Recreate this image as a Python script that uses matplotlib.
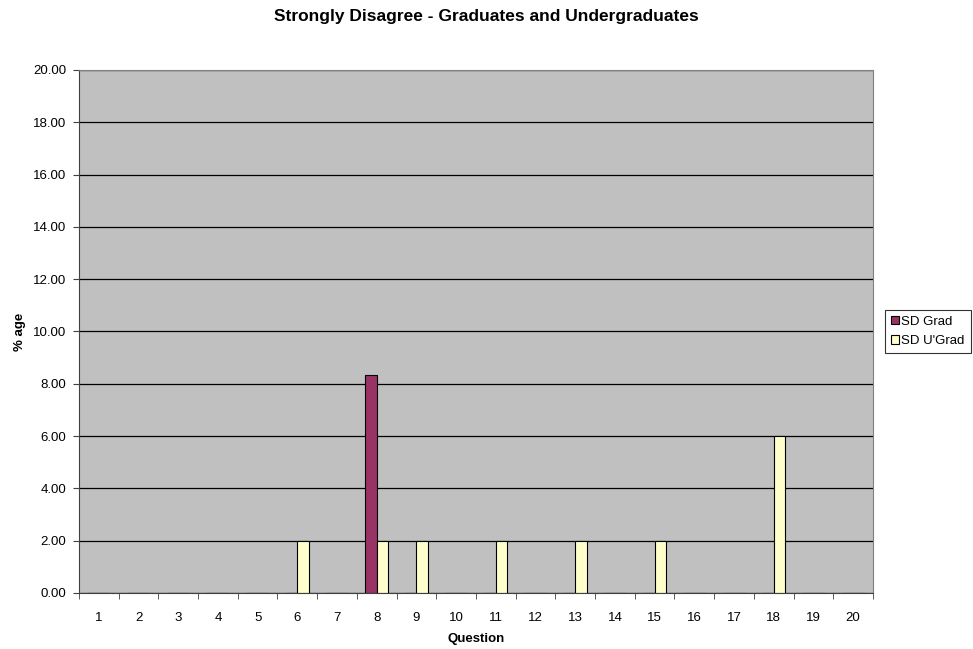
import numpy as np
import matplotlib.pyplot as plt

plt.rcParams['font.family'] = ['Liberation Sans', 'DejaVu Sans']

# survey results, % of respondents answering "strongly disagree"
questions = list(range(1, 21))
sd_grad = [0, 0, 0, 0, 0, 0, 0, 8.33, 0, 0, 0, 0, 0, 0, 0, 0, 0, 0, 0, 0]
sd_ugrad = [0, 0, 0, 0, 0, 2, 0, 2, 2, 0, 2, 0, 2, 0, 2, 0, 0, 6, 0, 0]

fig = plt.figure(figsize=(9.73, 6.49), dpi=100)
ax = fig.add_axes([0.0812, 0.0863, 0.816, 0.806])
ax.set_facecolor('#C0C0C0')

x = np.arange(len(questions))
w = 0.29
ax.bar(x - w/2, sd_grad, w, color='#993366', edgecolor='black', linewidth=0.8, label='SD Grad')
ax.bar(x + w/2, sd_ugrad, w, color='#FFFFCC', edgecolor='black', linewidth=0.8, label="SD U'Grad")

ax.set_xlim(-0.5, len(questions) - 0.5)
ax.set_ylim(0, 20)
ax.set_yticks(np.arange(0, 20.1, 2))
ax.set_yticklabels(['%.2f' % v for v in np.arange(0, 20.1, 2)], fontsize=9.5)
ax.set_xticks(x)
ax.set_xticklabels([str(q) for q in questions], fontsize=9.5)
ax.set_xticks(np.arange(-0.5, len(questions), 1), minor=True)
ax.tick_params(axis='x', which='major', length=0, pad=14)
ax.tick_params(axis='x', which='minor', length=4, color='#404040')
ax.tick_params(axis='y', length=4, color='#404040', pad=5)
ax.yaxis.grid(True, color='black', linewidth=0.9)
ax.set_axisbelow(True)
for side in ['top', 'right']:
    ax.spines[side].set_color('#808080')
for side in ['left', 'bottom']:
    ax.spines[side].set_color('#404040')

ax.set_xlabel('Question', fontsize=9.5, fontweight='bold', labelpad=6)
ax.set_ylabel('% age', fontsize=9.5, fontweight='bold', labelpad=5)
fig.suptitle('Strongly Disagree - Graduates and Undergraduates', fontsize=12.5,
             fontweight='bold', y=0.974, va='center')

leg = ax.legend(loc='center left', bbox_to_anchor=(1.015, 0.5), fontsize=9.5,
                frameon=True, fancybox=False, edgecolor='black',
                handlelength=0.6, handleheight=0.6, handletextpad=0.2,
                borderpad=0.45, labelspacing=0.55, borderaxespad=0)
leg.get_frame().set_linewidth(0.8)

fig.savefig('out.png', dpi=100)
